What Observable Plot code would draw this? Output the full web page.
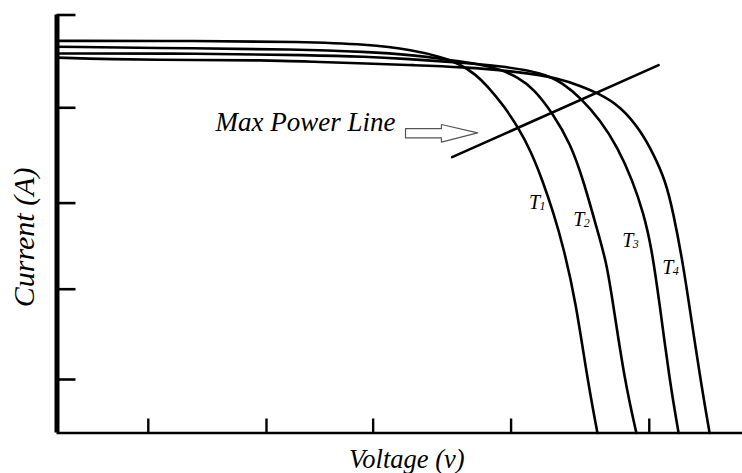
<!DOCTYPE html>
<html>
<head>
<meta charset="utf-8">
<script src="https://cdn.jsdelivr.net/npm/d3@7"></script>
<script src="https://cdn.jsdelivr.net/npm/@observablehq/plot@0.6"></script>
<style>
  html, body { margin: 0; padding: 0; background: #fff; }
  #chart svg { display: block; }
</style>
</head>
<body>
<div id="chart"></div>
<script>
// ---- Data (voltage in V, current in A) ----
const voltT1 = [0, 5.23, 8.88, 11.32, 13.00, 13.99, 14.72, 15.26, 15.70, 16.28, 16.83, 17.27, 17.71, 18.11, 18.47, 18.91, 19.35, 19.71];
const currT1 = [4.69, 4.69, 4.68, 4.65, 4.58, 4.50, 4.41, 4.29, 4.15, 3.92, 3.65, 3.38, 3.02, 2.63, 2.22, 1.59, 0.63, 0];

const voltT2 = [0, 5.23, 8.52, 11.32, 13.00, 14.35, 15.45, 16.17, 16.83, 17.38, 18.07, 18.73, 19.20, 19.71, 20.04, 20.26, 20.70, 21.13];
const currT2 = [4.62, 4.60, 4.59, 4.56, 4.52, 4.46, 4.41, 4.35, 4.25, 4.12, 3.83, 3.46, 3.02, 2.42, 2.04, 1.59, 0.63, 0];

const voltT3 = [0, 5.23, 9.25, 11.32, 12.53, 14.72, 16.17, 17.74, 18.47, 19.09, 19.82, 20.44, 20.99, 21.39, 21.68, 21.96, 22.34, 22.67];
const currT3 = [4.54, 4.54, 4.52, 4.50, 4.48, 4.43, 4.39, 4.31, 4.18, 4.01, 3.74, 3.42, 3.02, 2.63, 2.22, 1.59, 0.63, 0];

const voltT4 = [0, 1.77, 5.23, 7.42, 9.35, 11.32, 13.00, 14.72, 16.90, 18.36, 19.09, 19.71, 20.55, 21.28, 21.75, 22.19, 22.48, 22.81, 23.03, 23.47, 23.80];
const currT4 = [4.49, 4.47, 4.46, 4.46, 4.44, 4.42, 4.40, 4.38, 4.32, 4.24, 4.15, 4.07, 3.91, 3.62, 3.34, 3.02, 2.63, 2.06, 1.59, 0.63, 0];

const seriesNames = ["T1", "T2", "T3", "T4"];

// Max power line (two end points)
const mplVolt = [14.41, 21.94];
const mplCurr = [3.30, 4.40];

// Hollow block arrow outline
const arrowVolt = [12.71, 14.02, 14.02, 15.34, 14.02, 14.02, 12.71, 12.71];
const arrowCurr = [3.64, 3.64, 3.69, 3.59, 3.48, 3.53, 3.53, 3.64];

// Annotation text
const mplLabel = ["Max Power Line"];
const mplLabelVolt = [5.78];
const mplLabelCurr = [3.61];

const curveLabels = ["T", "T", "T", "T"];
const curveSubs = ["1", "2", "3", "4"];
const curveLabelVolt = [17.21, 18.83, 20.61, 22.07];
const curveLabelCurr = [2.68, 2.48, 2.22, 1.90];

// Tick values (no labels on the axes)
const xTicks = [3.33, 7.64, 11.53, 16.56, 21.60];
const yTicks = [0.64, 1.72, 2.75, 3.89, 5.0];

const xTitle = ["Voltage (v)"];
const yTitle = ["Current (A)"];

// ---- Build tables ----
const volts = [voltT1, voltT2, voltT3, voltT4];
const currs = [currT1, currT2, currT3, currT4];
const curveRows = seriesNames.flatMap((name, s) =>
  volts[s].map((v, k) => ({series: name, v, i: currs[s][k]})));
const mplRows = mplVolt.map((v, k) => ({v, i: mplCurr[k]}));
const arrowRows = arrowVolt.map((v, k) => ({v, i: arrowCurr[k]}));

const W = 742, H = 473, ML = 56.5, MR = 0, MT = 14.5, MB = 40.5;
const frameW = W - ML - MR, frameH = H - MT - MB;
const serif = "Liberation Serif, Times New Roman, serif";

const chart = Plot.plot({
  width: W,
  height: H,
  marginLeft: ML,
  marginRight: MR,
  marginTop: MT,
  marginBottom: MB,
  style: {background: "#fff", fontFamily: serif},
  x: {domain: [0, 25], axis: null},
  y: {domain: [0, 5], axis: null},
  marks: [
    Plot.line(curveRows, {x: "v", y: "i", z: "series", stroke: "#000", strokeWidth: 2.6, curve: "basis"}),
    Plot.line(mplRows, {x: "v", y: "i", stroke: "#000", strokeWidth: 2.6}),
    Plot.line(arrowRows, {x: "v", y: "i", stroke: "#555", strokeWidth: 1.2}),
    // axes lines
    Plot.ruleY([0], {x1: 0, x2: 25, stroke: "#000", strokeWidth: 2.6}),
    Plot.ruleX([0], {y1: 0, y2: 5, stroke: "#000", strokeWidth: 5}),
    // inward ticks
    Plot.tickY(yTicks, {y: d => d, insetRight: frameW - 19, stroke: "#000", strokeWidth: 2.6}),
    Plot.tickX(xTicks, {x: d => d, insetTop: frameH - 14, stroke: "#000", strokeWidth: 2.4}),
    // annotations
    Plot.text(mplLabel, {x: mplLabelVolt, y: mplLabelCurr, text: d => d, textAnchor: "start", lineAnchor: "bottom",
      fontSize: 27, fontStyle: "italic", fontFamily: serif, fill: "#000"}),
    Plot.text(curveLabels, {x: curveLabelVolt, y: curveLabelCurr, text: d => d, textAnchor: "start", lineAnchor: "bottom",
      fontSize: 20, fontStyle: "italic", fontFamily: serif, fill: "#000"}),
    Plot.text(curveSubs, {x: curveLabelVolt, y: curveLabelCurr, text: d => d, textAnchor: "start", lineAnchor: "bottom",
      dx: 10.5, dy: 1, fontSize: 12, fontStyle: "italic", fontFamily: serif, fill: "#000"}),
    // axis titles
    Plot.text(xTitle, {x: [12.76], frameAnchor: "bottom", text: d => d, textAnchor: "middle", lineAnchor: "bottom",
      dy: 34.5, fontSize: 26.5, fontStyle: "italic", fontFamily: serif, fill: "#000"}),
    Plot.text(yTitle, {y: [2.34], frameAnchor: "left", text: d => d, textAnchor: "middle", lineAnchor: "bottom",
      rotate: -90, dx: -23, fontSize: 30, fontStyle: "italic", fontFamily: serif, fill: "#000"})
  ]
});
document.getElementById("chart").appendChild(chart);
</script>
</body>
</html>
